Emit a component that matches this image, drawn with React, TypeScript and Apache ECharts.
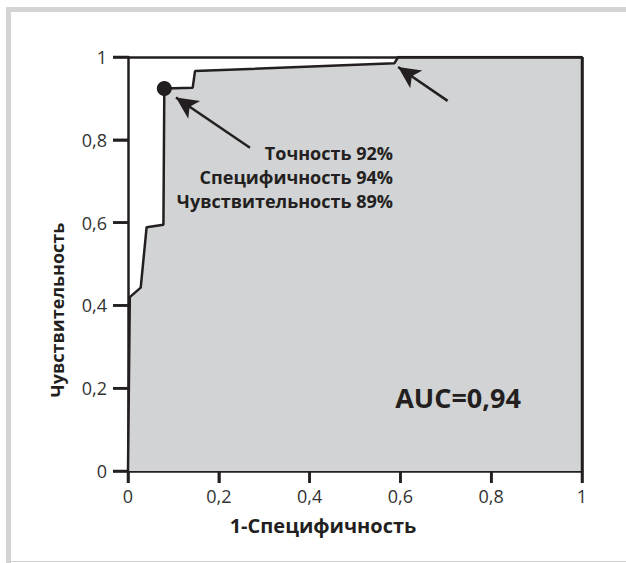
import React, { useEffect, useRef } from "react";
import * as echarts from "echarts";

const fpr = [0, 0.004, 0.028, 0.041, 0.078, 0.08, 0.1425, 0.1476, 0.587, 0.595, 1, 1];
const tpr = [0, 0.42, 0.443, 0.589, 0.595, 0.924, 0.926, 0.966, 0.985, 1, 1, 0];
const optimalPoint = [0.08, 0.924];
const tickValues = [0, 0.2, 0.4, 0.6, 0.8, 1];
const statLines = ["Точность 92%", "Специфичность 94%", "Чувствительность 89%"];
const aucText = "AUC=0,94";
const xTitle = "1-Специфичность";
const yTitle = "Чувствительность";
const arrows = [
  { from: [0.2687, 0.781], to: [0.1057, 0.902] },
  { from: [0.704, 0.894], to: [0.595, 0.976] },
];

const INK = "#231f20";
const FONT = "'Open Sans', 'Noto Sans', sans-serif";

const fmt = (v: number) => {
  if (Math.abs(v) < 1e-9) return "0";
  if (Math.abs(v - 1) < 1e-9) return "1";
  return v.toFixed(1).replace(".", ",");
};

export default function App() {
  const ref = useRef<HTMLDivElement>(null);
  useEffect(() => {
    document.body.style.margin = "0";
    const chart = echarts.init(ref.current!, null, { renderer: "svg" });
    const curve = fpr.map((x, i) => [x, tpr[i]]);
    const baseGraphic: any[] = [
      { type: "rect", shape: { x: 6, y: 7, width: 5, height: 556 }, style: { fill: "#d4d4d4" } },
      { type: "rect", shape: { x: 6, y: 7, width: 620, height: 5 }, style: { fill: "#d4d4d4" } },
      { type: "rect", shape: { x: 6, y: 561, width: 620, height: 1 }, style: { fill: "#cfcfcf" } },
      ...statLines.map((t, i) => ({
        type: "text",
        x: 393,
        y: 153 + i * 24,
        z: 10,
        style: {
          text: t,
          fill: INK,
          font: `bold 18px ${FONT}`,
          textAlign: "right",
          textVerticalAlign: "middle",
        },
      })),
      {
        type: "text",
        x: 458,
        y: 397,
        z: 10,
        style: {
          text: aucText,
          fill: INK,
          font: `bold 27px ${FONT}`,
          textAlign: "center",
          textVerticalAlign: "middle",
        },
      },
      {
        type: "text",
        x: 323,
        y: 525,
        style: {
          text: xTitle,
          fill: INK,
          font: `bold 20px ${FONT}`,
          textAlign: "center",
          textVerticalAlign: "middle",
        },
      },
      {
        type: "text",
        x: 57,
        y: 310,
        rotation: Math.PI / 2,
        style: {
          text: yTitle,
          fill: INK,
          font: `bold 18px ${FONT}`,
          textAlign: "center",
          textVerticalAlign: "middle",
        },
      },
    ];
    chart.setOption({
      animation: false,
      backgroundColor: "#fff",
      grid: { left: 128, right: 44, top: 57, bottom: 92 },
      xAxis: {
        type: "value",
        min: 0,
        max: 1,
        interval: 0.2,
        splitLine: { show: false },
        axisLine: { show: true, lineStyle: { color: INK, width: 2.5 } },
        axisTick: { show: true, length: 12, lineStyle: { color: INK, width: 2.5 } },
        axisLabel: { formatter: fmt, fontSize: 18, color: "#333", fontFamily: FONT, margin: 16 },
      },
      yAxis: {
        type: "value",
        min: 0,
        max: 1,
        interval: 0.2,
        splitLine: { show: false },
        axisLine: { show: true, lineStyle: { color: INK, width: 2.5 } },
        axisTick: { show: true, length: 15, lineStyle: { color: INK, width: 2.5 } },
        axisLabel: { formatter: fmt, fontSize: 18, color: "#333", fontFamily: FONT, margin: 21 },
      },
      series: [
        {
          type: "line",
          data: curve,
          symbol: "none",
          lineStyle: { color: INK, width: 2.5 },
          areaStyle: { color: "#d1d3d4", opacity: 1, origin: "start" },
          z: 2,
          markLine: {
            silent: true,
            symbol: ["none", "arrow"],
            symbolSize: [16, 22],
            label: { show: false },
            lineStyle: { color: INK, width: 2.5, type: "solid" },
            data: arrows.map((a) => [{ coord: a.from }, { coord: a.to }]),
          },
        },
        {
          type: "line",
          data: [],
          markLine: {
            silent: true,
            symbol: ["none", "none"],
            label: { show: false },
            lineStyle: { color: INK, width: 2.5, type: "solid" },
            data: [
              [{ coord: [0, 1] }, { coord: [1, 1] }],
              [{ coord: [1, 0] }, { coord: [1, 1] }],
            ],
          },
          z: 3,
        },
        {
          type: "scatter",
          data: [optimalPoint],
          symbol: "circle",
          symbolSize: 15,
          itemStyle: { color: INK, opacity: 1 },
          z: 5,
        },
      ],
      graphic: baseGraphic,
    });

    const x0 = chart.convertToPixel({ xAxisIndex: 0 }, 0) as number;
    const y0 = chart.convertToPixel({ yAxisIndex: 0 }, 0) as number;
    const tickShapes: any[] = [];
    tickValues.forEach((v) => {
      const px = chart.convertToPixel({ xAxisIndex: 0 }, v) as number;
      const py = chart.convertToPixel({ yAxisIndex: 0 }, v) as number;
      if (Number.isFinite(px) && Number.isFinite(y0)) {
        tickShapes.push({
          type: "line",
          z: 20,
          shape: { x1: px, y1: y0, x2: px, y2: y0 + 12 },
          style: { stroke: INK, lineWidth: 2.5 },
        });
      }
      if (Number.isFinite(py) && Number.isFinite(x0)) {
        tickShapes.push({
          type: "line",
          z: 20,
          shape: { x1: x0 - 15, y1: py, x2: x0, y2: py },
          style: { stroke: INK, lineWidth: 2.5 },
        });
      }
    });
    chart.setOption({ graphic: [...baseGraphic, ...tickShapes] });

    return () => chart.dispose();
  }, []);
  return (
    <div
      ref={ref}
      style={{ position: "absolute", left: 0, top: 0, width: 626, height: 563 }}
    />
  );
}
